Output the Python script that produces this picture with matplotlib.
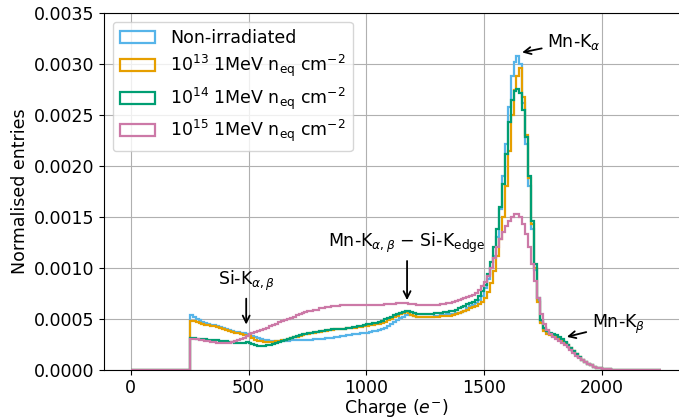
import numpy as np
import matplotlib
matplotlib.use("Agg")
import matplotlib.pyplot as plt
from matplotlib.patches import Patch

plt.rcParams['font.size'] = 12.5

# bin edges: one empty wide bin below 250, 12.5-wide bins 250..2050, one empty wide bin up to 2250
bin_edges = np.concatenate([[0.0], np.arange(250.0, 2050.0 + 1e-6, 12.5), [2250.0]])

non_irradiated = [0.0,
    0.00054, 0.00052, 0.00050, 0.00049, 0.00047, 0.00046, 0.00045, 0.00044,
    0.00044, 0.00043, 0.00042, 0.00041, 0.00040, 0.00039, 0.00038, 0.00037,
    0.00037, 0.00036, 0.00036, 0.00035, 0.00034, 0.00033, 0.00032, 0.00031,
    0.00030, 0.00029, 0.00029, 0.00028, 0.00028, 0.00028, 0.00028, 0.00028,
    0.00028, 0.00028, 0.00029, 0.00029, 0.00029, 0.00029, 0.00029, 0.00029,
    0.00029, 0.00029, 0.00030, 0.00030, 0.00030, 0.00030, 0.00031, 0.00031,
    0.00031, 0.00032, 0.00032, 0.00033, 0.00033, 0.00034, 0.00034, 0.00035,
    0.00035, 0.00035, 0.00036, 0.00036, 0.00036, 0.00037, 0.00038, 0.00038,
    0.00039, 0.00040, 0.00041, 0.00043, 0.00045, 0.00047, 0.00049, 0.00051,
    0.00052, 0.00054, 0.00055, 0.00054, 0.00053, 0.00052, 0.00052, 0.00052,
    0.00052, 0.00052, 0.00052, 0.00053, 0.00053, 0.00054, 0.00054, 0.00055,
    0.00055, 0.00055, 0.00056, 0.00056, 0.00057, 0.00058, 0.00060, 0.00062,
    0.00063, 0.00065, 0.00068, 0.00072, 0.00080, 0.00089, 0.00100, 0.00112,
    0.00130, 0.00158, 0.00190, 0.00222, 0.00258, 0.00288, 0.00302, 0.00308,
    0.00300, 0.00262, 0.00222, 0.00180, 0.00138, 0.00098, 0.00068, 0.00047,
    0.00040, 0.00037, 0.00035, 0.00033, 0.00032, 0.00030, 0.00028, 0.00026,
    0.00024, 0.00021, 0.00018, 0.00015, 0.00012, 0.00009, 0.00007, 0.00005,
    0.00004, 0.00003, 0.00002, 0.000012, 0.000006, 0.000003, 0.000001, 0.0,
    0.0]

fluence_1e13 = [0.0,
    0.00048, 0.00048, 0.00047, 0.00046, 0.00045, 0.00044, 0.00044, 0.00043,
    0.00043, 0.00042, 0.00041, 0.00040, 0.00039, 0.00038, 0.00037, 0.00036,
    0.00036, 0.00035, 0.00034, 0.00033, 0.00033, 0.00031, 0.00029, 0.00028,
    0.00028, 0.00027, 0.00027, 0.00027, 0.00027, 0.00028, 0.00028, 0.00029,
    0.00029, 0.00030, 0.00031, 0.00032, 0.00032, 0.00033, 0.00034, 0.00035,
    0.00035, 0.00036, 0.00036, 0.00037, 0.00037, 0.00038, 0.00038, 0.00039,
    0.00039, 0.00040, 0.00040, 0.00040, 0.00040, 0.00041, 0.00041, 0.00041,
    0.00041, 0.00042, 0.00042, 0.00043, 0.00043, 0.00044, 0.00044, 0.00045,
    0.00045, 0.00046, 0.00047, 0.00049, 0.00050, 0.00052, 0.00053, 0.00055,
    0.00056, 0.00057, 0.00056, 0.00054, 0.00053, 0.00052, 0.00052, 0.00052,
    0.00052, 0.00052, 0.00052, 0.00052, 0.00052, 0.00053, 0.00053, 0.00053,
    0.00053, 0.00054, 0.00055, 0.00056, 0.00057, 0.00058, 0.00059, 0.00060,
    0.00061, 0.00062, 0.00064, 0.00066, 0.00070, 0.00076, 0.00085, 0.00097,
    0.00112, 0.00128, 0.00150, 0.00180, 0.00215, 0.00250, 0.00275, 0.00288,
    0.00296, 0.00268, 0.00230, 0.00188, 0.00143, 0.00100, 0.00066, 0.00046,
    0.00038, 0.00035, 0.00034, 0.00033, 0.00032, 0.00030, 0.00028, 0.00026,
    0.00024, 0.00021, 0.00018, 0.00015, 0.00012, 0.00009, 0.00007, 0.00005,
    0.00004, 0.00003, 0.00002, 0.000012, 0.000006, 0.000003, 0.000001, 0.0,
    0.0]

fluence_1e14 = [0.0,
    0.00031, 0.00031, 0.00030, 0.00030, 0.00030, 0.00030, 0.00029, 0.00029,
    0.00029, 0.00029, 0.00028, 0.00028, 0.00028, 0.00027, 0.00027, 0.00026,
    0.00026, 0.00026, 0.00026, 0.00027, 0.00026, 0.00025, 0.00024, 0.00023,
    0.00023, 0.00023, 0.00024, 0.00024, 0.00025, 0.00026, 0.00027, 0.00028,
    0.00029, 0.00030, 0.00031, 0.00032, 0.00033, 0.00034, 0.00035, 0.00035,
    0.00036, 0.00036, 0.00037, 0.00037, 0.00038, 0.00038, 0.00039, 0.00039,
    0.00040, 0.00040, 0.00040, 0.00040, 0.00040, 0.00041, 0.00041, 0.00042,
    0.00042, 0.00043, 0.00043, 0.00044, 0.00045, 0.00045, 0.00046, 0.00046,
    0.00047, 0.00048, 0.00050, 0.00051, 0.00052, 0.00054, 0.00055, 0.00056,
    0.00057, 0.00058, 0.00058, 0.00057, 0.00056, 0.00055, 0.00055, 0.00055,
    0.00055, 0.00055, 0.00055, 0.00056, 0.00056, 0.00056, 0.00057, 0.00057,
    0.00058, 0.00058, 0.00059, 0.00060, 0.00061, 0.00062, 0.00064, 0.00065,
    0.00066, 0.00068, 0.00072, 0.00077, 0.00083, 0.00094, 0.00106, 0.00120,
    0.00138, 0.00160, 0.00182, 0.00212, 0.00243, 0.00265, 0.00274, 0.00276,
    0.00272, 0.00255, 0.00228, 0.00190, 0.00146, 0.00104, 0.00070, 0.00049,
    0.00041, 0.00038, 0.00036, 0.00035, 0.00034, 0.00032, 0.00030, 0.00027,
    0.00024, 0.00021, 0.00018, 0.00015, 0.00012, 0.00009, 0.00007, 0.00005,
    0.00004, 0.00003, 0.00002, 0.000012, 0.000006, 0.000003, 0.000001, 0.0,
    0.0]

fluence_1e15 = [0.0,
    0.00030, 0.00030, 0.00030, 0.00029, 0.00029, 0.00028, 0.00028, 0.00027,
    0.00027, 0.00026, 0.00026, 0.00026, 0.00026, 0.00026, 0.00027, 0.00028,
    0.00029, 0.00030, 0.00031, 0.00033, 0.00035, 0.00036, 0.00037, 0.00038,
    0.00039, 0.00040, 0.00041, 0.00043, 0.00044, 0.00045, 0.00047, 0.00048,
    0.00049, 0.00050, 0.00051, 0.00052, 0.00054, 0.00055, 0.00056, 0.00057,
    0.00058, 0.00058, 0.00059, 0.00059, 0.00060, 0.00060, 0.00061, 0.00061,
    0.00062, 0.00062, 0.00062, 0.00063, 0.00063, 0.00063, 0.00063, 0.00063,
    0.00063, 0.00063, 0.00063, 0.00063, 0.00063, 0.00063, 0.00063, 0.00063,
    0.00063, 0.00063, 0.00064, 0.00064, 0.00064, 0.00064, 0.00065, 0.00065,
    0.00065, 0.00065, 0.00064, 0.00064, 0.00064, 0.00063, 0.00063, 0.00063,
    0.00063, 0.00063, 0.00063, 0.00063, 0.00063, 0.00064, 0.00064, 0.00065,
    0.00065, 0.00066, 0.00067, 0.00068, 0.00069, 0.00070, 0.00071, 0.00072,
    0.00073, 0.00075, 0.00078, 0.00082, 0.00086, 0.00092, 0.00100, 0.00110,
    0.00120, 0.00128, 0.00135, 0.00141, 0.00146, 0.00150, 0.00153, 0.00153,
    0.00150, 0.00143, 0.00133, 0.00120, 0.00104, 0.00087, 0.00070, 0.00055,
    0.00045, 0.00039, 0.00035, 0.00032, 0.00030, 0.00028, 0.00026, 0.00024,
    0.00022, 0.00019, 0.00016, 0.00013, 0.00011, 0.00009, 0.00007, 0.00005,
    0.00004, 0.00003, 0.00002, 0.000012, 0.000006, 0.000003, 0.000001, 0.0,
    0.0]

series = [non_irradiated, fluence_1e13, fluence_1e14, fluence_1e15]
labels = ["Non-irradiated",
          r"$10^{13}$ 1MeV n$_{\mathrm{eq}}$ cm$^{-2}$",
          r"$10^{14}$ 1MeV n$_{\mathrm{eq}}$ cm$^{-2}$",
          r"$10^{15}$ 1MeV n$_{\mathrm{eq}}$ cm$^{-2}$"]
colors = ["#56B4E9", "#E69F00", "#009E73", "#CC79A7"]

fig = plt.figure(figsize=(6.79, 4.19), dpi=100)
ax = fig.add_axes([0.1536, 0.118, 0.8585, 0.8503])

handles = []
for vals, lab, col in zip(series, labels, colors):
    ax.stairs(vals, bin_edges, color=col, linewidth=1.6)
    handles.append(Patch(facecolor='none', edgecolor=col, linewidth=1.6, label=lab))

ax.set_xlim(-112.5, 2362.5)
ax.set_ylim(0, 0.0035)
ax.set_xticks([0, 500, 1000, 1500, 2000])
ax.set_yticks(np.arange(0, 0.0036, 0.0005))
ax.grid(True, color='#b0b0b0', linewidth=0.8)
ax.set_axisbelow(True)
ax.set_xlabel(r"Charge ($e^{-}$)", labelpad=-0.5)
ax.set_ylabel("Normalised entries")

arrow = dict(arrowstyle='->', color='black', lw=1.3)
ax.annotate(r"Mn-K$_{\alpha}$", xy=(1650, 0.00311), xytext=(1768, 0.00322),
            ha='left', va='center', arrowprops=arrow)
ax.annotate(r"Mn-K$_{\beta}$", xy=(1840, 0.000315), xytext=(1957, 0.000445),
            ha='left', va='center', arrowprops=arrow)
ax.annotate(r"Si-K$_{\alpha,\beta}$", xy=(490, 0.000415), xytext=(490, 0.00087),
            ha='center', va='center', arrowprops=arrow)
ax.annotate(r"Mn-K$_{\alpha,\beta}$ $-$ Si-K$_{\mathrm{edge}}$", xy=(1173, 0.000655),
            xytext=(1173, 0.00124), ha='center', va='center', arrowprops=arrow)

ax.legend(handles=handles, loc='upper left', handlelength=2.0, handletextpad=0.9,
          labelspacing=0.35, borderaxespad=0.5)

fig.savefig("out.png", dpi=100)
